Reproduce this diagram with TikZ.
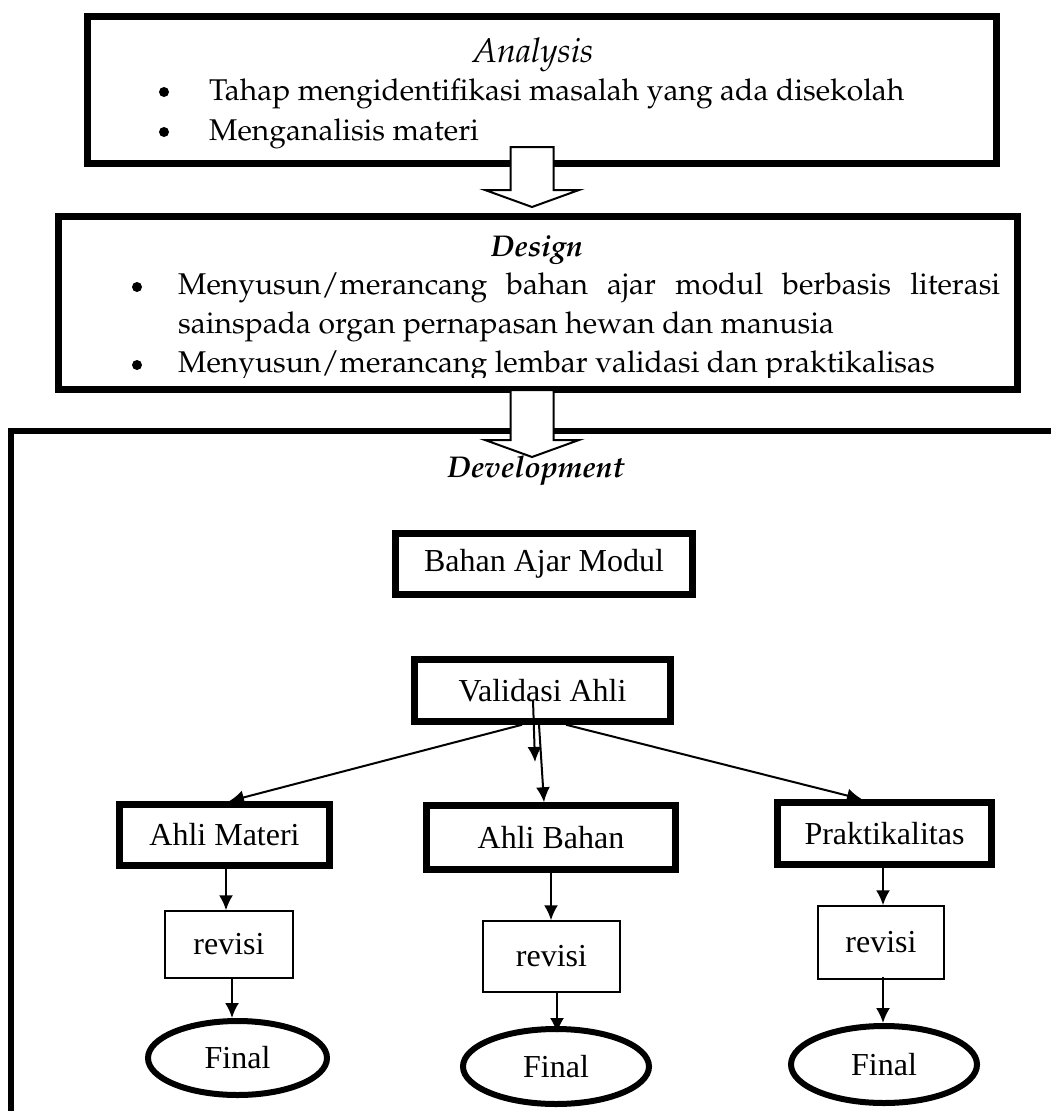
\documentclass[tikz,border=0pt]{standalone}
\usepackage[T1]{fontenc}
\usepackage{fontspec}
\setmainfont{Liberation Serif}
\usetikzlibrary{arrows.meta,shapes.geometric,calc}

\newcommand\palfont{\fontencoding{T1}\fontfamily{ppl}\selectfont}
\newcommand\uptextfont{\palfont\fontsize{30}{36}\selectfont}
\newcommand\lowfont{\fontsize{32}{38}\selectfont}
% hollow block arrow from top point #1 down to tip #2
\newcommand\blockarrow[2]{%
	\draw[blockarrow] let \p1=(#1), \p2=(#2) in
		(\x1-21.5pt,\y1) -- (\x1+21.5pt,\y1) -- (\x1+21.5pt,\y2+17pt) -- (\x1+47pt,\y2+17pt)
		-- (\x2,\y2) -- (\x1-47pt,\y2+17pt) -- (\x1-21.5pt,\y2+17pt) -- cycle;}

\begin{document}
\begin{tikzpicture}[x=1pt,y=-1pt,
	bigbox/.style={draw,line width=7pt,inner sep=0pt},
	midbox/.style={draw,line width=6.5pt,inner sep=0pt,font=\lowfont},
	revbox/.style={draw,line width=1.5pt,inner sep=0pt,font=\lowfont},
	finalnode/.style={draw,ellipse,line width=6pt,inner sep=0pt,font=\lowfont},
	uptext/.style={inner sep=0pt,anchor=base west,font=\uptextfont},
	uptitle/.style={inner sep=0pt,anchor=base,font=\uptextfont\itshape},
	dot/.style={circle,fill,inner sep=0pt,minimum size=10pt},
	conn/.style={line width=2pt,-{Latex[length=15pt,width=14pt]}},
	blockarrow/.style={draw,fill=white,line width=2pt}]
	\useasboundingbox (0,0) rectangle (1051,1111);

	% Analysis
	\node[bigbox,minimum width=909pt,minimum height=147pt] (ana) at (542,90) {};
	\node[uptitle,font=\palfont\fontsize{34}{40}\selectfont\itshape] (anatitle) at (533,62) {Analysis};
	\node[dot] (anadot1) at (164,92) {};
	\node[uptext] (ana1) at (209,100) {Tahap mengidentifikasi masalah yang ada disekolah};
	\node[dot] (anadot2) at (164,132) {};
	\node[uptext] (ana2) at (209,140) {Menganalisis materi};

	% Design
	\node[bigbox,minimum width=959pt,minimum height=173pt] (des) at (538,303) {};
	\node[uptitle,font=\uptextfont\bfseries\itshape] (destitle) at (537,256) {Design};
	\begin{scope}
		\clip (62,219) rectangle (1014,377);
		\node[dot] (desdot1) at (137,287) {};
		\node[uptext] (des1) at (178,294) {\makebox[822pt][s]{Menyusun/merancang bahan ajar modul berbasis literasi}};
		\node[uptext] (des2) at (178,333) {sainspada organ pernapasan hewan dan manusia};
		\node[dot] (desdot2) at (137,365) {};
		\node[uptext] (des3) at (178,372) {Menyusun/merancang lembar validasi dan praktikalisas};
	\end{scope}

	% Development
	\node[draw,line width=6pt,anchor=north west,minimum width=1100pt,minimum height=700pt,inner sep=0pt] (dev) at (8,428) {};
	\node[uptitle,font=\uptextfont\bfseries\itshape] (devtitle) at (536,477) {Development};

	\node[midbox,minimum width=297pt,minimum height=61pt] (bahan) at (544,564) {Bahan Ajar Modul};
	\node[midbox,minimum width=256pt,minimum height=62pt] (val) at (542.5,690.5) {Validasi Ahli};

	\node[midbox,minimum width=210pt,minimum height=61pt] (materi) at (224.5,835) {Ahli Materi};
	\node[midbox,minimum width=249pt,minimum height=64pt] (ahlibahan) at (551,837.5) {Ahli Bahan};
	\node[midbox,minimum width=214pt,minimum height=62pt] (prak) at (884.5,833.5) {Praktikalitas};

	\node[revbox,minimum width=128pt,minimum height=67pt] (rev1) at (229,944.5) {revisi};
	\node[revbox,minimum width=137pt,minimum height=71pt] (rev2) at (551.5,956.5) {revisi};
	\node[revbox,minimum width=126pt,minimum height=73pt] (rev3) at (881,942.5) {revisi};

	\node[finalnode,minimum width=179pt,minimum height=74pt] (fin1) at (237.5,1058) {Final};
	\node[finalnode,minimum width=186pt,minimum height=75pt] (fin2) at (556,1066.5) {Final};
	\node[finalnode,minimum width=186pt,minimum height=77pt] (fin3) at (884,1064.5) {Final};

	% connectors
	\coordinate (valtail) at (535,762);
	\draw[conn] ([xshift=-20.5pt]val.south) -- ([xshift=4.5pt]materi.north);
	\draw[conn] ([xshift=23.5pt]val.south) -- ([xshift=-22.5pt]prak.north);
	\draw[conn] ([xshift=-9.5pt,yshift=-9.5pt]val.center) -- (valtail);
	\draw[conn] ([xshift=-3.5pt]val.south) -- ([xshift=-7pt]ahlibahan.north);

	\draw[conn] ([xshift=1.5pt]materi.south) -- ([xshift=-3pt]rev1.north);
	\draw[conn] ([xshift=3pt]rev1.south) -- ([xshift=-5.5pt]fin1.north);
	\draw[conn] (ahlibahan.south) -- (ahlibahan.south |- rev2.north);
	\draw[conn] ([xshift=5.5pt]rev2.south) -- ([xshift=1pt,yshift=-7pt]fin2.north);
	\draw[conn] ([xshift=-1.5pt]prak.south) -- ([xshift=2pt]rev3.north);
	\draw[conn] ([xshift=2pt,yshift=3pt]rev3.south) -- ([xshift=-1pt]fin3.north);

	% block arrows between stages
	\coordinate (a1top) at (532,147);
	\coordinate (a1tip) at (532,207);
	\coordinate (a2top) at (532,390);
	\coordinate (a2tip) at (532,457);
	\blockarrow{a1top}{a1tip}
	\blockarrow{a2top}{a2tip}
\end{tikzpicture}
\end{document}
